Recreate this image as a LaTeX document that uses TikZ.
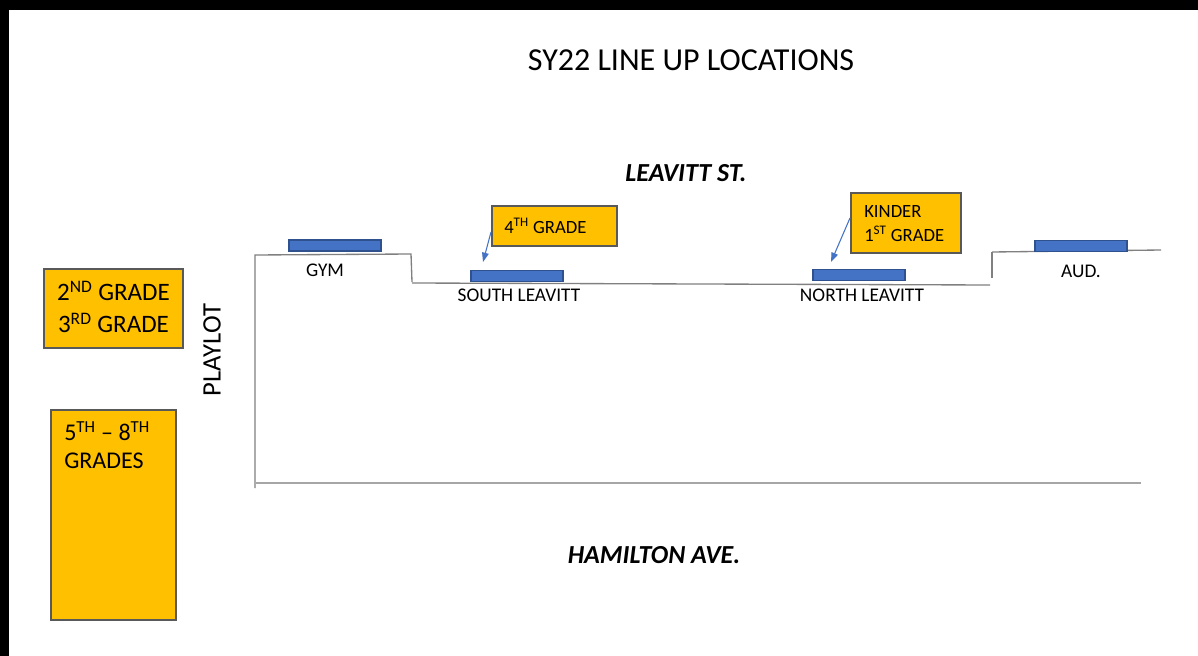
\documentclass[tikz,border=0pt]{standalone}
\usepackage{fontspec}
\setmainfont{Carlito}
\usetikzlibrary{arrows.meta}
\definecolor{gold}{HTML}{FFC000}
\definecolor{goldedge}{HTML}{595959}
\definecolor{barblue}{HTML}{4472C4}
\definecolor{baredge}{HTML}{2F528F}
\definecolor{linegray}{HTML}{808080}
\tikzset{
  bar/.style={fill=barblue, draw=baredge, line width=1pt, inner sep=0pt, minimum width=69pt, minimum height=8.25pt},
  gbox/.style={fill=gold, draw=goldedge, line width=0.8pt, inner sep=0pt},
  lbl/.style={font=\fontsize{14.5}{16}\selectfont, inner sep=0pt},
  street/.style={draw=linegray, line width=1pt},
  pointer/.style={draw=barblue, line width=0.8pt, -{Triangle[length=7pt,width=5pt]}},
}
\begin{document}
\begin{tikzpicture}[x=0.75pt,y=-0.75pt]
\fill[white] (0,0) rectangle (1198,656);
\useasboundingbox (0,0) rectangle (1198,656);
\fill[black] (0,0) rectangle (1198,10);
\fill[black] (0,0) rectangle (9,656);

% title and street names
\node[font=\fontsize{24}{28}\selectfont] (title) at (691,60) {SY22 LINE UP LOCATIONS};
\node[font=\fontsize{19.5}{23}\selectfont\bfseries\itshape] (leavitt) at (686,173) {LEAVITT ST.};
\node[font=\fontsize{19.5}{23}\selectfont\bfseries\itshape] (hamilton) at (654,555) {HAMILTON AVE.};

% building outline
\draw[street] (255,488) -- (255,255) -- (411,254) -- (412,282);
\draw[street] (412,283) -- (990,285);
\draw[street] (992,278) -- (992,252);
\draw[street] (992,252) -- (1161,250);
\draw[draw=linegray!70, line width=2pt] (256,483) -- (1141,483);

% bars
\node[bar] (gymbar) at (335,245.5) {};
\node[bar] (sbar) at (517,276) {};
\node[bar] (nbar) at (859,275) {};
\node[bar] (abar) at (1081,246) {};

\node[lbl] (gym) at (325,270) {GYM};
\node[lbl] (south) at (519,295) {SOUTH LEAVITT};
\node[lbl] (north) at (862,295) {NORTH LEAVITT};
\node[lbl] (aud) at (1081,271) {AUD.};

% PLAYLOT
\node[font=\fontsize{20}{24}\selectfont, rotate=90] (playlot) at (212,350) {PLAYLOT};

% grade boxes
\node[gbox, minimum width=93.75pt, minimum height=30pt] (g4) at (554.5,226) {};
\node[font=\fontsize{14}{17}\selectfont, anchor=west, inner sep=0pt] (g4t) at (504,226) {4\textsuperscript{TH} GRADE};

\node[gbox, minimum width=82.5pt, minimum height=45pt] (kin) at (906,223) {};
\node[font=\fontsize{14}{18}\selectfont, anchor=west, inner sep=0pt, align=left] (kint) at (864,224) {KINDER\\1\textsuperscript{ST} GRADE};

\node[gbox, minimum width=104.25pt, minimum height=59.25pt] (g23) at (113.5,308.5) {};
\node[font=\fontsize{18.8}{24}\selectfont, inner sep=0pt, align=center] (g23t) at (113.5,307) {2\textsuperscript{ND} GRADE\\3\textsuperscript{RD} GRADE};

\node[gbox, minimum width=93.75pt, minimum height=157.5pt] (g58) at (113.5,515) {};
\node[font=\fontsize{18}{21}\selectfont, anchor=north west, inner sep=0pt, align=left] (g58t) at (64,421) {5\textsuperscript{TH} -- 8\textsuperscript{TH}\\GRADES};

% pointers
\coordinate (p4s) at (491,232);
\coordinate (p4e) at (483,262);
\coordinate (pks) at (850,218);
\coordinate (pke) at (831,262);
\draw[pointer] (p4s) -- (p4e);
\draw[pointer] (pks) -- (pke);
\end{tikzpicture}
\end{document}
